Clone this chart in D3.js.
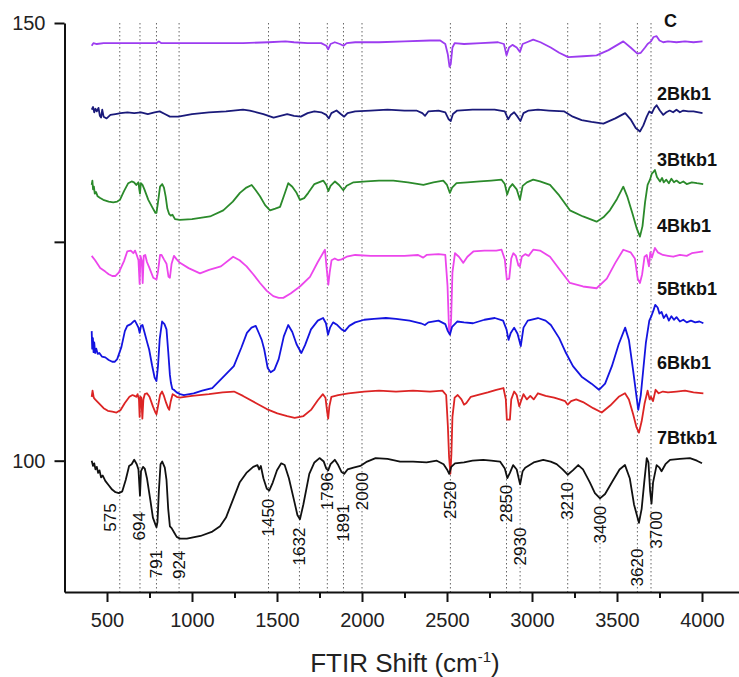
<!DOCTYPE html>
<html>
<head>
<meta charset="utf-8">
<script src="https://cdn.jsdelivr.net/npm/d3@7"></script>
<style>
  body { margin: 0; background: #fff; }
  svg { display: block; font-family: Arial, "Liberation Sans", sans-serif; }
</style>
</head>
<body>
<div id="chart"></div>
<script>
// espectros FTIR, desplazados verticalmente

const seriesNames = ['C', '2Bkb1', '3Btkb1', '4Bkb1', '5Btkb1', '6Bkb1', '7Btkb1'];

const specC = [[410,147.4],[420,147.7],[440,147.6],[480,147.7],[560,147.7],[650,147.7],[760,147.7],[790,147.7],[805,147.9],[820,147.7],[900,147.7],[1100,147.7],[1300,147.7],[1450,147.8],[1550,147.9],[1600,147.8],[1680,147.7],[1760,147.7],[1790,147.4],[1801,147.0],[1815,147.6],[1840,147.8],[1870,147.6],[1891,147.4],[1910,147.7],[1960,147.8],[2100,147.8],[2250,147.9],[2400,148.0],[2460,148.0],[2490,147.6],[2505,146.4],[2515,145.0],[2522,145.3],[2532,147.2],[2545,147.7],[2600,147.6],[2700,147.7],[2800,147.8],[2835,147.6],[2850,146.3],[2865,147.2],[2885,147.5],[2910,147.2],[2929,146.7],[2945,147.6],[2970,147.8],[3007,148.1],[3050,147.8],[3110,147.2],[3160,146.6],[3213,146.1],[3300,146.2],[3380,146.3],[3450,146.9],[3537,147.9],[3580,147.2],[3620,146.5],[3640,146.6],[3665,147.2],[3680,147.6],[3700,147.9],[3715,148.4],[3733,148.5],[3750,148.0],[3772,147.8],[3800,147.9],[3850,147.8],[3900,147.9],[3950,147.8],[4003,147.9]];

const spec2Bkb1 = [[410,140.1],[418,140.4],[425,139.8],[432,140.2],[440,139.9],[450,140.3],[458,139.4],[465,139.2],[472,140.1],[480,139.3],[498,139.1],[520,139.5],[550,139.6],[580,139.7],[620,139.8],[660,139.7],[700,139.8],[740,139.6],[780,139.8],[810,139.9],[840,139.6],[870,139.3],[920,139.3],[1000,139.6],[1100,139.8],[1200,139.9],[1300,140.1],[1340,140.0],[1380,139.8],[1420,139.6],[1450,139.4],[1480,139.2],[1520,139.4],[1560,139.6],[1600,139.4],[1640,139.3],[1680,139.7],[1720,139.9],[1760,139.8],[1790,139.5],[1805,139.1],[1820,139.7],[1850,140.0],[1875,139.6],[1895,139.3],[1915,139.7],[1960,139.9],[2050,140.0],[2150,140.1],[2250,140.0],[2320,140.0],[2355,139.7],[2371,139.4],[2390,139.9],[2450,140.0],[2490,139.8],[2510,139.0],[2522,138.8],[2535,139.6],[2560,140.0],[2650,140.1],[2780,140.1],[2840,139.9],[2860,139.0],[2875,139.5],[2895,139.8],[2915,139.3],[2932,138.8],[2950,139.7],[2980,140.0],[3035,140.1],[3100,140.0],[3190,139.9],[3240,139.3],[3292,138.9],[3350,138.7],[3420,138.5],[3490,139.1],[3548,139.7],[3580,139.0],[3610,138.0],[3635,137.6],[3655,138.3],[3675,139.3],[3690,139.9],[3705,139.7],[3720,140.3],[3733,140.6],[3752,140.0],[3772,139.5],[3790,139.8],[3810,140.0],[3830,139.8],[3850,140.1],[3870,139.8],[3890,140.0],[3920,139.9],[3950,139.9],[4003,139.7]];

const spec3Btkb1 = [[410,131.5],[414,132.0],[418,131.0],[423,131.3],[428,130.5],[435,130.7],[445,130.2],[460,130.0],[478,129.8],[510,129.6],[537,129.5],[560,129.6],[576,129.8],[600,130.8],[625,131.7],[645,131.9],[659,131.8],[672,131.5],[685,131.8],[690,131.0],[694,130.5],[699,131.7],[709,131.5],[720,131.0],[743,129.8],[765,129.0],[785,128.3],[791,128.3],[800,129.5],[812,131.3],[825,131.6],[835,131.2],[845,130.2],[855,128.8],[865,128.2],[875,128.0],[885,128.1],[900,127.6],[929,127.5],[1000,127.6],[1106,127.9],[1184,128.6],[1240,129.6],[1282,130.6],[1320,131.2],[1351,131.5],[1375,130.9],[1400,130.2],[1430,129.2],[1459,128.6],[1490,128.8],[1518,129.0],[1545,130.5],[1566,131.7],[1590,131.3],[1615,130.6],[1635,129.8],[1660,130.0],[1684,130.6],[1720,131.6],[1772,132.0],[1790,131.5],[1802,130.8],[1815,131.4],[1841,131.9],[1865,131.5],[1890,130.9],[1910,131.4],[1950,131.8],[2027,131.9],[2100,132.0],[2184,132.0],[2270,131.8],[2361,131.5],[2420,131.8],[2478,132.0],[2500,131.5],[2517,130.6],[2530,131.2],[2556,131.7],[2620,131.8],[2694,131.9],[2760,132.0],[2821,132.1],[2840,131.6],[2854,130.4],[2868,131.2],[2885,131.6],[2910,131.0],[2929,129.8],[2945,131.4],[2970,131.8],[3007,132.1],[3047,131.9],[3106,131.5],[3160,130.3],[3223,128.6],[3300,127.9],[3380,127.3],[3420,127.8],[3458,128.6],[3500,129.9],[3537,131.3],[3560,130.2],[3590,128.3],[3615,126.6],[3635,125.6],[3650,126.8],[3665,129.5],[3680,131.5],[3694,132.1],[3705,132.8],[3715,133.0],[3723,133.2],[3735,132.4],[3753,131.9],[3765,132.3],[3775,131.8],[3790,132.1],[3805,131.7],[3820,132.2],[3835,131.8],[3850,132.0],[3870,131.7],[3890,131.9],[3910,131.6],[3940,131.8],[3970,131.7],[4007,131.6]];

const spec4Bkb1 = [[410,123.4],[430,122.9],[460,122.0],[490,121.6],[510,121.3],[531,121.1],[550,121.1],[570,121.5],[600,122.8],[619,123.9],[640,124.0],[655,123.7],[665,124.0],[675,123.5],[685,122.9],[692,120.2],[697,123.4],[705,122.8],[710,120.3],[716,123.4],[725,123.5],[735,122.7],[750,122.0],[772,120.9],[791,120.7],[800,121.6],[812,123.5],[821,123.5],[835,123.0],[850,122.5],[862,121.0],[870,120.9],[880,122.5],[894,123.4],[910,123.0],[929,122.6],[980,122.0],[1047,121.4],[1100,121.8],[1170,122.2],[1242,123.3],[1280,122.9],[1321,122.2],[1360,121.3],[1400,120.3],[1440,119.4],[1478,118.8],[1510,118.6],[1537,118.6],[1580,119.1],[1635,119.9],[1694,121.0],[1740,122.7],[1782,124.1],[1792,122.0],[1802,120.1],[1810,121.5],[1821,122.9],[1840,123.1],[1860,122.9],[1880,123.0],[1910,123.3],[1960,123.5],[2050,123.4],[2150,123.4],[2250,123.4],[2330,123.5],[2360,123.2],[2380,123.5],[2450,123.6],[2490,123.5],[2503,120.0],[2512,115.0],[2517,114.4],[2524,116.0],[2532,121.5],[2547,123.7],[2570,123.3],[2596,122.6],[2620,123.3],[2655,123.9],[2720,124.0],[2790,124.0],[2821,124.1],[2840,123.0],[2852,120.7],[2866,120.8],[2878,123.1],[2890,123.7],[2905,123.4],[2920,122.3],[2929,122.2],[2940,123.3],[2960,123.6],[2980,123.4],[3007,124.1],[3047,124.0],[3106,123.3],[3160,121.9],[3223,120.3],[3300,119.9],[3380,119.7],[3440,120.8],[3490,122.6],[3537,124.1],[3580,123.8],[3605,123.1],[3622,120.8],[3635,120.3],[3648,121.3],[3662,123.3],[3675,123.5],[3688,122.2],[3696,123.8],[3705,123.2],[3723,124.3],[3740,123.8],[3770,123.5],[3800,123.4],[3831,123.3],[3870,123.5],[3910,123.4],[3940,123.7],[3970,123.8],[4007,123.9]];

const spec5Btkb1 = [[410,114.8],[413,112.8],[417,114.0],[421,112.4],[425,113.5],[430,112.3],[437,112.8],[445,112.2],[455,112.3],[470,111.9],[490,111.8],[510,111.5],[531,111.3],[545,111.3],[560,111.6],[585,113.0],[605,114.8],[619,115.4],[640,115.6],[655,115.9],[664,116.0],[675,115.6],[685,115.2],[692,114.6],[700,115.4],[709,115.5],[720,114.7],[735,113.6],[748,112.7],[765,110.9],[780,109.5],[791,109.1],[800,110.8],[810,113.9],[824,115.9],[838,115.6],[850,115.0],[860,112.5],[870,109.8],[876,108.9],[884,108.2],[893,108.1],[910,107.8],[930,107.6],[952,107.5],[1010,107.7],[1060,108.0],[1119,108.3],[1180,109.5],[1246,110.8],[1290,112.9],[1323,114.6],[1350,115.2],[1375,115.4],[1395,114.5],[1410,113.8],[1425,112.7],[1445,110.6],[1463,110.1],[1485,110.4],[1510,111.6],[1540,114.2],[1566,115.5],[1590,114.7],[1615,113.3],[1643,112.3],[1665,113.2],[1700,115.0],[1740,116.0],[1771,116.3],[1788,115.7],[1800,114.4],[1812,115.2],[1830,115.8],[1855,115.5],[1880,115.0],[1899,114.8],[1925,115.4],[1960,115.8],[2013,116.1],[2070,116.2],[2141,116.3],[2200,116.2],[2280,116.0],[2346,115.7],[2370,115.5],[2390,115.8],[2450,116.0],[2490,115.6],[2505,114.8],[2517,114.4],[2530,115.3],[2560,115.9],[2600,115.8],[2653,115.7],[2720,116.1],[2781,116.3],[2830,116.0],[2850,115.0],[2862,113.8],[2875,114.6],[2895,115.2],[2915,114.5],[2934,113.1],[2950,115.2],[2975,116.0],[3035,116.3],[3080,116.0],[3111,115.5],[3160,114.0],[3200,112.3],[3241,110.8],[3292,109.6],[3350,108.8],[3394,108.1],[3430,108.8],[3470,110.8],[3510,113.3],[3548,115.2],[3570,113.8],[3595,110.3],[3615,107.3],[3625,105.8],[3640,107.5],[3655,110.5],[3670,113.5],[3690,116.0],[3702,116.5],[3715,117.2],[3725,117.8],[3739,117.5],[3750,116.8],[3762,117.0],[3775,116.3],[3790,116.7],[3805,116.0],[3820,116.5],[3835,116.1],[3850,116.4],[3870,115.9],[3890,116.1],[3910,115.8],[3935,116.0],[3960,115.8],[3985,115.9],[4008,115.7]];

const spec6Bkb1 = [[410,107.3],[415,108.0],[422,107.2],[430,107.0],[450,106.6],[480,106.0],[505,105.7],[531,105.6],[556,105.5],[580,105.8],[605,106.6],[632,107.3],[650,107.5],[662,107.4],[672,107.3],[680,107.6],[688,107.0],[692,105.0],[696,107.3],[702,107.2],[708,104.8],[714,107.0],[722,107.6],[735,107.7],[750,107.3],[770,106.2],[785,105.5],[791,105.3],[800,106.2],[812,107.5],[824,107.9],[835,107.4],[848,106.6],[860,106.0],[866,105.8],[875,106.8],[886,107.6],[894,107.5],[910,107.3],[927,107.2],[1000,107.4],[1100,107.6],[1180,107.8],[1247,107.9],[1300,107.4],[1375,106.6],[1440,105.9],[1502,105.4],[1560,105.1],[1604,104.9],[1656,105.1],[1700,105.8],[1740,106.9],[1770,107.6],[1785,107.2],[1795,105.6],[1801,104.8],[1808,106.2],[1820,107.3],[1860,107.5],[1920,107.7],[2013,107.9],[2100,108.0],[2200,107.9],[2300,108.0],[2400,107.9],[2473,108.0],[2495,107.5],[2505,104.0],[2512,100.5],[2520,98.5],[2526,100.8],[2532,105.0],[2545,107.2],[2563,107.5],[2585,107.0],[2600,106.4],[2614,106.6],[2640,107.3],[2678,107.5],[2740,107.8],[2790,108.1],[2832,108.3],[2846,107.0],[2852,104.7],[2870,104.7],[2878,107.0],[2895,107.9],[2910,107.5],[2925,106.2],[2935,106.8],[2950,107.6],[2970,107.0],[2990,107.4],[3010,107.0],[3035,107.7],[3080,107.4],[3130,107.2],[3164,107.0],[3195,106.8],[3210,106.4],[3230,106.8],[3260,107.0],[3300,106.7],[3360,106.0],[3410,105.5],[3460,106.3],[3510,107.3],[3547,107.7],[3570,107.0],[3595,105.3],[3615,103.8],[3629,103.2],[3645,104.5],[3662,106.5],[3680,108.0],[3692,107.0],[3700,107.3],[3712,106.8],[3727,108.1],[3745,107.7],[3770,107.9],[3800,107.8],[3850,107.9],[3900,108.0],[3950,107.8],[4008,107.7]];

const spec7Btkb1 = [[410,100.0],[418,99.4],[425,99.7],[432,99.0],[440,99.3],[448,98.6],[456,98.9],[465,98.1],[475,98.3],[490,97.7],[510,97.2],[530,96.7],[550,96.4],[570,96.3],[590,96.5],[610,97.8],[630,99.4],[645,99.6],[660,100.1],[675,99.6],[685,99.0],[694,96.0],[700,98.8],[712,99.3],[722,99.1],[735,98.0],[755,95.5],[770,93.5],[785,92.7],[791,92.4],[797,93.0],[805,96.5],[815,99.6],[825,99.9],[840,99.2],[850,97.8],[860,94.5],[870,92.5],[880,92.3],[895,91.8],[910,91.3],[930,91.1],[970,91.1],[1050,91.4],[1120,91.9],[1165,92.5],[1200,93.5],[1240,95.5],[1280,97.5],[1320,98.6],[1360,99.3],[1385,99.5],[1395,99.0],[1405,99.4],[1420,98.0],[1440,96.8],[1455,96.6],[1475,97.5],[1500,98.9],[1525,99.7],[1545,99.5],[1570,98.0],[1600,95.5],[1620,93.8],[1635,93.3],[1655,95.0],[1690,98.5],[1720,99.8],[1750,100.3],[1775,99.9],[1790,99.1],[1801,98.9],[1815,99.6],[1840,100.1],[1860,99.5],[1880,98.7],[1895,98.5],[1915,99.0],[1950,99.2],[1990,99.4],[2030,99.9],[2080,100.3],[2150,100.2],[2224,99.9],[2300,99.9],[2380,99.8],[2440,100.0],[2480,99.6],[2500,99.0],[2513,98.5],[2525,99.3],[2547,99.7],[2600,99.8],[2650,100.0],[2713,100.1],[2760,100.0],[2812,99.9],[2840,99.1],[2855,98.0],[2870,98.6],[2889,99.5],[2910,99.0],[2930,97.3],[2945,98.8],[2960,99.2],[3010,99.8],[3066,100.1],[3110,99.9],[3145,99.6],[3180,99.0],[3210,98.4],[3240,98.9],[3272,99.5],[3300,99.0],[3341,97.5],[3370,96.3],[3400,95.7],[3430,96.2],[3478,97.8],[3515,99.0],[3547,99.5],[3575,98.0],[3600,95.0],[3629,92.9],[3645,94.5],[3660,97.5],[3675,100.3],[3685,99.8],[3695,96.5],[3703,95.1],[3712,97.5],[3733,99.5],[3750,99.2],[3762,98.8],[3785,99.6],[3812,100.1],[3870,100.2],[3929,100.3],[3970,100.0],[4000,99.7]];

const spectra = [specC, spec2Bkb1, spec3Btkb1, spec4Bkb1, spec5Btkb1, spec6Bkb1, spec7Btkb1];
const colors = ['#9c3cf0', '#1a1a7a', '#2b8a2b', '#ec46ec', '#1414e0', '#dc2424', '#111111'];

// etiquetas de los picos (numero de onda) y altura del texto en unidades del eje
const peaks = [575, 694, 791, 924, 1450, 1632, 1796, 1891, 2000, 2520, 2850, 2930, 3210, 3400, 3620, 3700];
const peakLabelY = [93.5, 92.5, 88.2, 88.1, 93.5, 90.2, 96.5, 92.9, 96.5, 95.5, 95.1, 90.2, 95.4, 92.7, 87.8, 92.1];
// altura de los nombres de cada serie (unidades del eje)
const nameY = [149.5, 141.2, 133.7, 126.1, 118.9, 110.5, 101.9];

const xTicks = [500, 1000, 1500, 2000, 2500, 3000, 3500, 4000];
const xMinor = [750, 1250, 1750, 2250, 2750, 3250, 3750];
const yTicks = [100, 125, 150];
const yLabels = [100, 150];

const WIDTH = 739, HEIGHT = 677;

const x = d3.scaleLinear().domain([250, 4250]).range([64.5, 744.5]);
const y = d3.scaleLinear().domain([85, 150]).range([592, 23]);

const svg = d3.select('#chart').append('svg')
  .attr('width', WIDTH)
  .attr('height', HEIGHT);

// lineas punteadas verticales en los picos
svg.append('g')
  .selectAll('line')
  .data(peaks)
  .join('line')
    .attr('x1', d => x(d)).attr('x2', d => x(d))
    .attr('y1', y(150)).attr('y2', y(85))
    .attr('stroke', '#666')
    .attr('stroke-width', 1)
    .attr('stroke-dasharray', '1.5,2.5');

// espectros
const line = d3.line().x(d => x(d[0])).y(d => y(d[1]));

svg.append('g')
  .selectAll('path')
  .data(spectra)
  .join('path')
    .attr('d', line)
    .attr('fill', 'none')
    .attr('stroke', (d, i) => colors[i])
    .attr('stroke-width', 1.8)
    .attr('stroke-linejoin', 'round');

// nombres de las series
svg.append('g')
  .selectAll('text')
  .data(seriesNames)
  .join('text')
    .attr('x', (d, i) => i === 0 ? 664 : 657)
    .attr('y', (d, i) => y(nameY[i]))
    .attr('font-size', 18)
    .attr('font-weight', 'bold')
    .attr('fill', '#111')
    .text(d => d);

// numeros de los picos, rotados
svg.append('g')
  .selectAll('text')
  .data(peaks)
  .join('text')
    .attr('transform', (d, i) => {
      const dx = d === 575 ? -9 : (d === 3700 ? 5 : 0);
      return `translate(${x(d) + dx},${y(peakLabelY[i])}) rotate(-90)`;
    })
    .attr('text-anchor', 'middle')
    .attr('dominant-baseline', 'central')
    .attr('font-size', 17)
    .attr('fill', '#111')
    .text(d => d);

// ejes
svg.append('g')
  .attr('transform', `translate(0,${y(85)})`)
  .call(d3.axisBottom(x).tickValues(xTicks).tickSize(10).tickSizeOuter(0).tickPadding(11).tickFormat(d3.format('d')));

svg.append('g')
  .attr('transform', `translate(0,${y(85)})`)
  .call(d3.axisBottom(x).tickValues(xMinor).tickSize(6).tickSizeOuter(0).tickFormat(''))
  .select('.domain').remove();

svg.append('g')
  .attr('transform', `translate(${x(250)},0)`)
  .call(d3.axisLeft(y).tickValues(yTicks).tickSize(10).tickSizeOuter(0).tickPadding(9)
    .tickFormat(d => yLabels.includes(d) ? d : ''));

svg.selectAll('.domain, .tick line')
  .attr('stroke', '#111')
  .attr('stroke-width', 2);

svg.selectAll('.tick text')
  .attr('font-size', 20)
  .attr('font-family', 'Arial, "Liberation Sans", sans-serif')
  .attr('fill', '#222');

// titulo del eje x
const title = svg.append('text')
  .attr('x', 405)
  .attr('y', 672)
  .attr('text-anchor', 'middle')
  .attr('font-size', 26)
  .attr('fill', '#222');
title.append('tspan').text('FTIR Shift (cm');
title.append('tspan').attr('font-size', 15).attr('dy', -10).text('-1');
title.append('tspan').attr('dy', 10).text(')');
</script>
</body>
</html>
